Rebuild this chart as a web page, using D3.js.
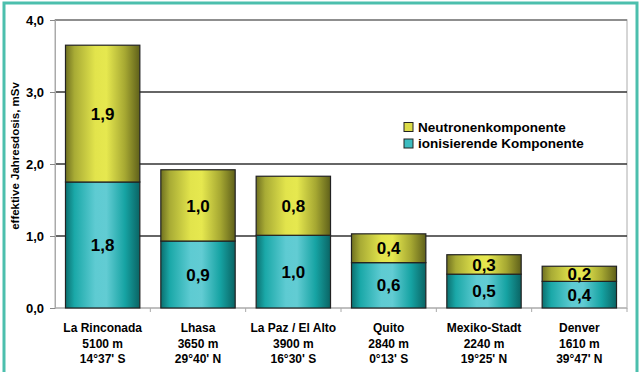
<!DOCTYPE html>
<html><head><meta charset="utf-8">
<script src="https://cdn.jsdelivr.net/npm/d3@7"></script>
<style>body{margin:0;background:#fff}svg{display:block;font-family:Arial,"Liberation Sans",sans-serif}</style>
</head><body>
<svg id="c" width="639" height="372"></svg>
<script>
const cities = ["La Rinconada","Lhasa","La Paz / El Alto","Quito","Mexiko-Stadt","Denver"];
const altitudes = ["5100 m","3650 m","3900 m","2840 m","2240 m","1610 m"];
const latitudes = ["14°37' S","29°40' N","16°30' S","0°13' S","19°25' N","39°47' N"];
const ionValues = [1.75,0.93,1.01,0.63,0.47,0.37];
const neutronValues = [1.9,0.99,0.82,0.40,0.27,0.21];
const ionLabels = ["1,8","0,9","1,0","0,6","0,5","0,4"];
const neutronLabels = ["1,9","1,0","0,8","0,4","0,3","0,2"];
const yTicks = [0,1,2,3,4];
const yTickLabels = ["0,0","1,0","2,0","3,0","4,0"];
const seriesNames = ["Neutronenkomponente","ionisierende Komponente"];
const yTitle = "effektive Jahresdosis, mSv";

const svg = d3.select("#c");
const L=55,R=627,T=20,B=308;
const defs = svg.append("defs");
function grad(id, stops){
  const g = defs.append("linearGradient").attr("id",id).attr("x1","0").attr("x2","1").attr("y1","0").attr("y2","0");
  stops.forEach(s=>g.append("stop").attr("offset",s[0]).attr("stop-color",s[1]));
}
grad("gIon",[[0,"#0b6f6f"],[0.12,"#1aa8a8"],[0.4,"#5ecbd2"],[0.55,"#62ccd3"],[0.8,"#16a3a3"],[1,"#0a6464"]]);
grad("gNeu",[[0,"#6f7020"],[0.12,"#a8ab35"],[0.4,"#e2e44c"],[0.55,"#e6e84f"],[0.8,"#a6a832"],[1,"#5f601a"]]);

// frame
svg.append("path").attr("d","M4,372 V3 H637 V372").attr("fill","none").attr("stroke","#4cbfad").attr("stroke-width",3);

const x = d3.scaleBand().domain(cities).range([L,R]).paddingInner(0.22).paddingOuter(0.11);
const y = d3.scaleLinear().domain([0,4]).range([B,T]);

// plot area border
svg.append("rect").attr("x",L).attr("y",T).attr("width",R-L).attr("height",B-T).attr("fill","#fff").attr("stroke","#c8c8c8").attr("stroke-width",1.5);
// gridlines
svg.append("g").selectAll("line").data(yTicks.filter(d=>d>0)).join("line")
  .attr("x1",L).attr("x2",R).attr("y1",d=>y(d)).attr("y2",d=>y(d))
  .attr("stroke",d=>d===4?"#777":"#333").attr("stroke-width",1.3);

// y axis
const ya = svg.append("g").attr("transform",`translate(${L},0)`)
  .call(d3.axisLeft(y).tickValues(yTicks).tickFormat((d,i)=>yTickLabels[i]).tickSize(5).tickPadding(6));
ya.select(".domain").attr("stroke","#aaa");
ya.selectAll(".tick line").attr("stroke","#888");
ya.selectAll("text").attr("font-size",13).attr("font-weight","bold").attr("fill","#000").attr("font-family","Arial,'Liberation Sans',sans-serif");

// x axis baseline & ticks between categories
const step = x.step();
svg.append("line").attr("x1",L).attr("x2",R).attr("y1",B).attr("y2",B).attr("stroke","#aaa");
svg.append("g").selectAll("line").data(cities.slice(1).concat(["_end"])).join("line")
  .attr("x1",(d,i)=>L+step*(i+1)).attr("x2",(d,i)=>L+step*(i+1))
  .attr("y1",B).attr("y2",B+4).attr("stroke","#aaa");

// bars
const bw = x.bandwidth();
const g = svg.append("g");
cities.forEach((c,i)=>{
  const x0 = x(c);
  const ion = ionValues[i], neu = neutronValues[i];
  g.append("rect").attr("x",x0).attr("y",y(ion)).attr("width",bw).attr("height",y(0)-y(ion))
    .attr("fill","url(#gIon)").attr("stroke","#222").attr("stroke-width",1.2);
  g.append("rect").attr("x",x0).attr("y",y(ion+neu)).attr("width",bw).attr("height",y(ion)-y(ion+neu))
    .attr("fill","url(#gNeu)").attr("stroke","#222").attr("stroke-width",1.2);
  const cx = x0+bw/2;
  g.append("text").attr("x",cx).attr("y",(y(0)+y(ion))/2).attr("dy","0.36em").attr("text-anchor","middle")
    .attr("font-size",17).attr("font-weight","bold").text(ionLabels[i]);
  g.append("text").attr("x",cx).attr("y",(y(ion)+y(ion+neu))/2).attr("dy","0.36em").attr("text-anchor","middle")
    .attr("font-size",17).attr("font-weight","bold").text(neutronLabels[i]);
  const lab = svg.append("text").attr("text-anchor","middle").attr("font-size",12).attr("font-weight","bold");
  [cities[i],altitudes[i],latitudes[i]].forEach((t,j)=>{
    lab.append("tspan").attr("x",cx).attr("y",332+j*15.5).text(t);
  });
});

// y title
svg.append("text").attr("transform",`translate(19,${(T+B)/2-8}) rotate(-90)`).attr("text-anchor","middle")
  .attr("font-size",11.5).attr("font-weight","bold").text(yTitle);

// legend
const leg = svg.append("g");
const legSolid = ["#dcdc48","#3cbcc0"];
seriesNames.forEach((n,i)=>{
  const yy = 127+i*16.5;
  leg.append("rect").attr("x",404).attr("y",yy-4.5).attr("width",9).attr("height",9)
    .attr("fill",legSolid[i]).attr("stroke","#222").attr("stroke-width",1);
  leg.append("text").attr("x",418).attr("y",yy).attr("dy","0.36em").attr("font-size",13.5).attr("font-weight","bold").text(n);
});
</script>
</body></html>
